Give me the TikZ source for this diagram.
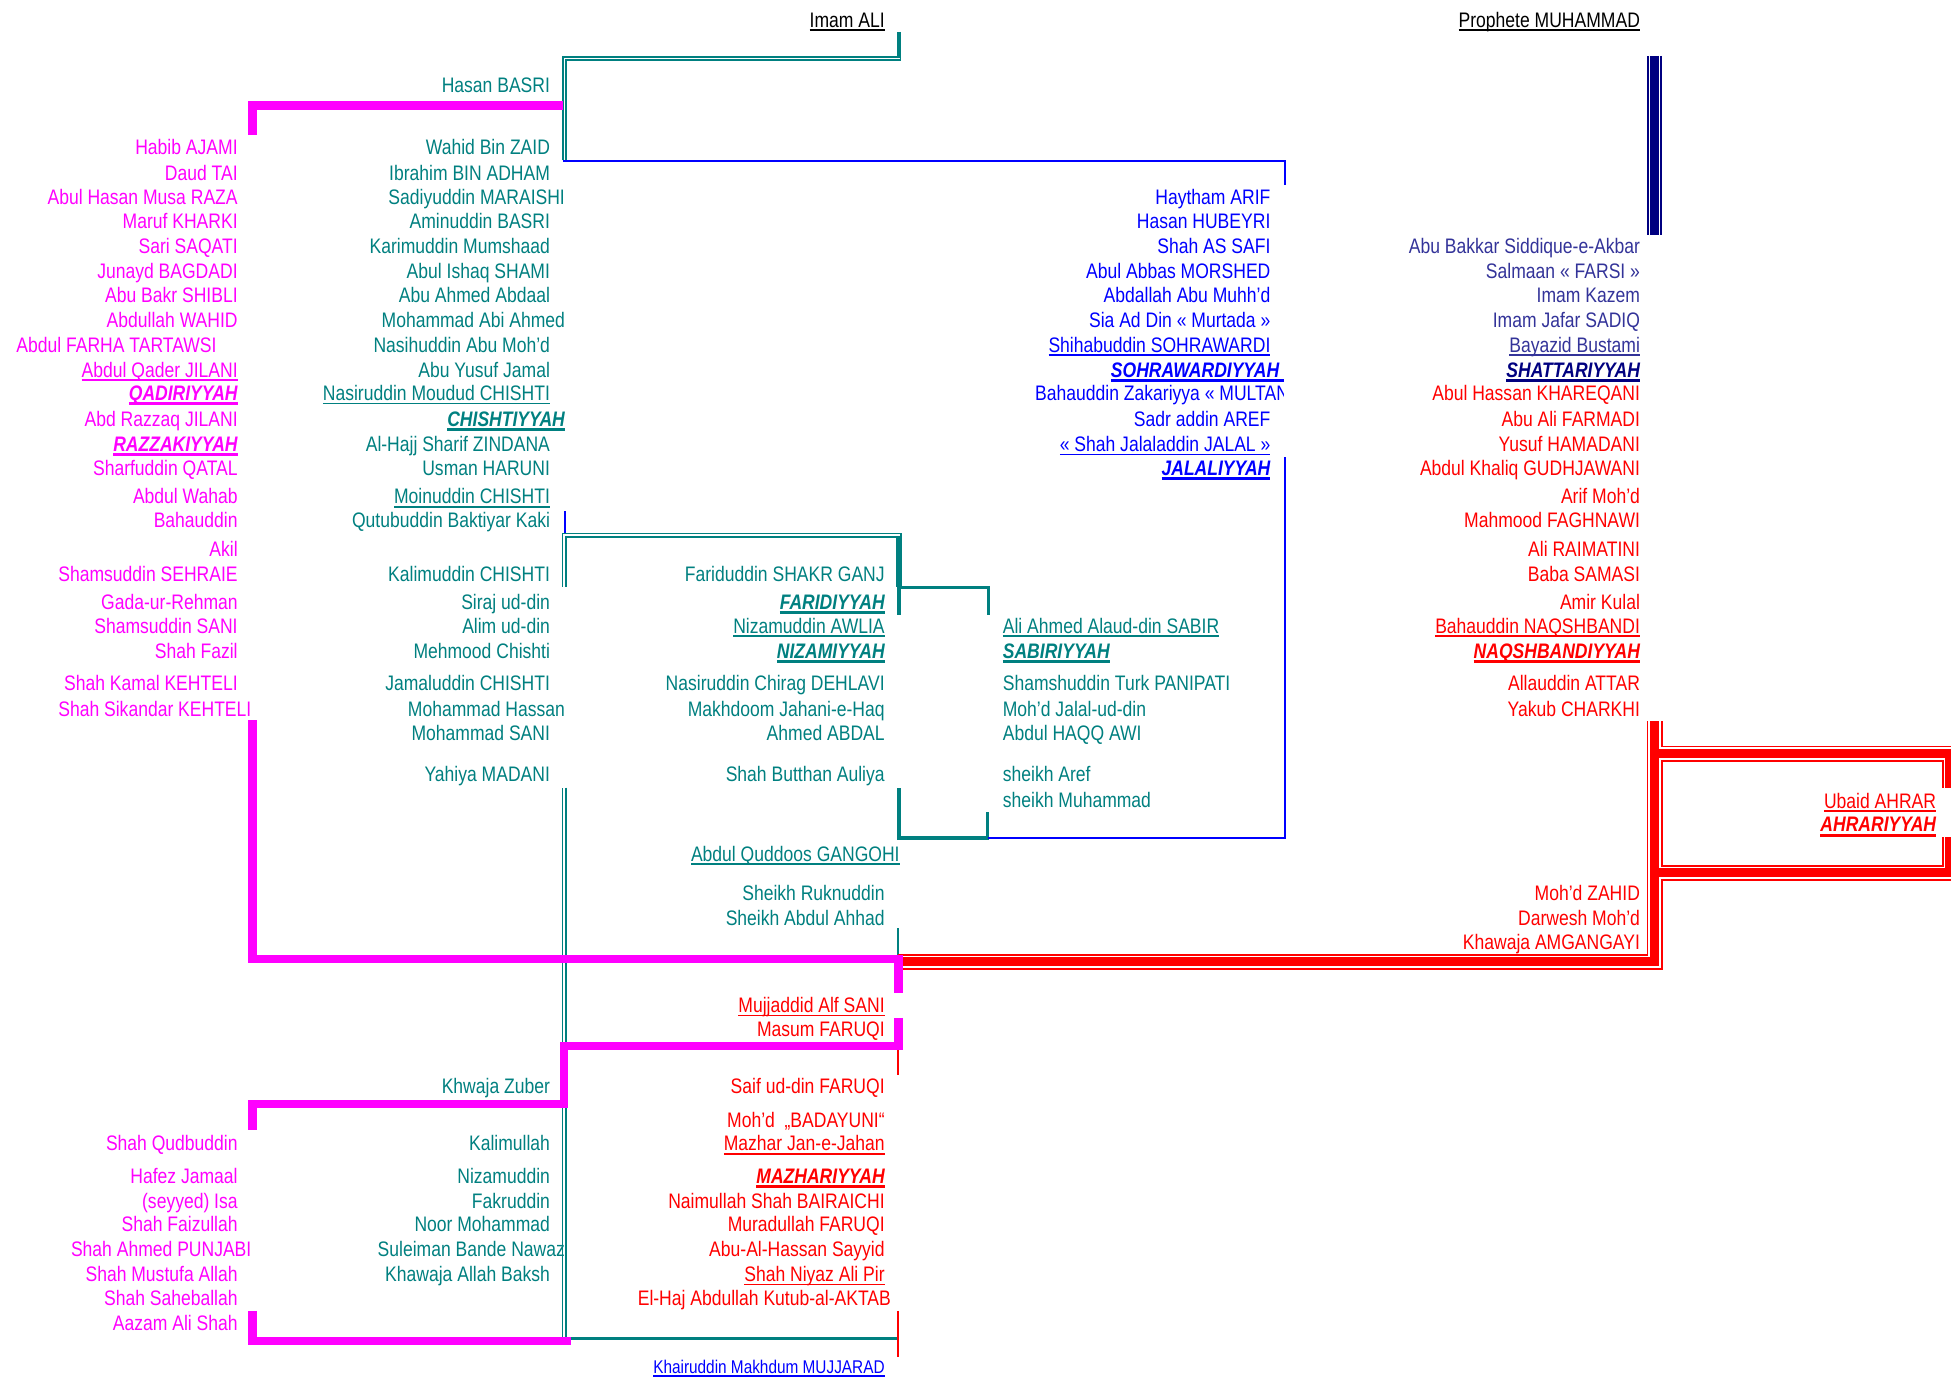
\documentclass[tikz,border=0pt]{standalone}
\usepackage{fontspec}
\setmainfont{Liberation Sans}[FakeStretch=0.835]
\definecolor{mg}{HTML}{FF00FF}
\definecolor{tl}{HTML}{008080}
\definecolor{bu}{HTML}{0000FF}
\definecolor{rd}{HTML}{FF0000}
\definecolor{nv}{HTML}{000080}
\definecolor{sl}{HTML}{333399}
\newcommand\ulx[2][0.8pt]{\setbox0=\hbox{#2}\rlap{\rule[-1.8pt]{\wd0}{#1}}\box0}
\newcommand\bix[1]{\setbox0=\hbox{\bfseries\itshape #1}\rlap{\rule[-2.3pt]{\wd0}{1.5pt}}\box0}
\begin{document}
\begin{tikzpicture}[x=0.6221pt,y=-0.6221pt,
  every node/.style={inner sep=0pt,outer sep=0pt,font=\fontsize{10.5}{12}\selectfont},
  R/.style={anchor=base east}, L/.style={anchor=base west},
  mgline/.style={mg,line width=4.2pt},
  tthick/.style={tl,line width=1.65pt},
  tdouble/.style={tl,double=white,double distance=0.85pt,line width=0.85pt},
  bline/.style={bu,line width=1pt},
  rthin/.style={rd,line width=0.9pt}]
\fill[white] (0,0) rectangle (1568,1107);
\useasboundingbox (0,0) rectangle (1568,1107);

% ---------- named coordinates ----------
\coordinate (aliA) at (722.5,25.7);
\coordinate (aliB) at (722.5,49);
\coordinate (dA) at (723.5,47);
\coordinate (dB) at (453.7,128.6);
\coordinate (bA) at (452.2,129.4);
\coordinate (bB) at (1032.8,148.7);
\coordinate (qk1) at (453.7,411);
\coordinate (qk2) at (453.7,430);
\coordinate (fA) at (453.5,471.5);
\coordinate (fB) at (722.5,472);
\coordinate (fC) at (722.5,494.3);
\coordinate (sA) at (794.3,494.3);
\coordinate (gA) at (722.5,633.5);
\coordinate (gB) at (793.8,652.3);
\coordinate (jA) at (1032.8,367);
\coordinate (lwA) at (453.5,633);
\coordinate (lwB) at (453.5,1077);
\coordinate (ahA) at (722,746);
\coordinate (ahB) at (722,768);
\coordinate (btA) at (454.6,1075.5);
\coordinate (btB) at (722,1075.5);
\coordinate (rtA) at (722,844);
\coordinate (rtB) at (722,864);
\coordinate (rbA) at (722,1053.6);
\coordinate (rbB) at (722,1090.3);

% ---------- teal and blue connectors ----------
\draw[tthick] (aliA) -- (aliB);
\draw[tdouble] (dA) -- (453.7,47) -- (dB);
\draw[bline] (bA) -- (1032.8,129.4) -- (bB);
\draw[bline] (qk1) -- (qk2);
\draw[tdouble] (fA) -- (453.5,430.2) -- (722.5,430.2) -- (fB);
\draw[tthick] (722.5,431) -- (fC);
\draw[tthick] (722.5,472.3) -- (794.3,472.3) -- (sA);
\draw[tthick] (gA) -- (722.5,673.5) -- (793.8,673.5) -- (gB);
\draw[bline] (793.8,673.3) -- (1032.8,673.3) -- (jA);
\draw[tdouble] (lwA) -- (lwB);
\draw[tl,line width=1pt] (ahA) -- (ahB);
\draw[tthick] (btA) -- (btB);
\draw[rthin] (rtA) -- (rtB);
\draw[rthin] (rbA) -- (rbB);

% ---------- navy triple line ----------
\coordinate (nvA) at (1330,45);
\coordinate (nvB) at (1330,188.5);
\draw[nv,line width=7.4pt] (nvA) -- (nvB);
\draw[white,line width=5.6pt] (nvA) -- (nvB);
\draw[nv,line width=4.6pt] (nvA) -- (nvB);

% ---------- red triple lines ----------
\coordinate (rvA) at (1329.8,579.5);
\coordinate (rvB) at (722,773);
\coordinate (rlA) at (1329.8,605.6);
\coordinate (rlB) at (1329.8,701.5);
\draw[rd,line width=8pt] (rvA) -- (1329.8,773) -- (rvB) (rlA) -- (1567,605.6) -- (1567,701.5) -- (rlB);
\draw[white,line width=6.2pt] (rvA) -- (1329.8,773) -- (rvB) (rlA) -- (1567,605.6) -- (1567,701.5) -- (rlB);
\draw[rd,line width=4.4pt] (rvA) -- (1329.8,773) -- (rvB) (rlA) -- (1567,605.6) -- (1567,701.5) -- (rlB);
\fill[white] (1557,633.5) rectangle (1570,672.6);

% ---------- magenta connectors ----------
\coordinate (mA) at (452.5,84.8);
\coordinate (mB) at (203,108.5);
\coordinate (mC) at (203,579);
\coordinate (mD) at (722,798);
\coordinate (mE) at (722,818);
\coordinate (mF) at (203,908);
\coordinate (mG) at (203,1053.6);
\coordinate (mH) at (458.6,1077.6);
\draw[mgline] (mA) -- (203,84.8) -- (mB);
\draw[mgline] (mC) -- (203,770.8) -- (722,770.8) -- (mD);
\draw[mgline] (mE) -- (722,840.7) -- (453.5,840.7) -- (453.5,887.3) -- (203,887.3) -- (mF);
\draw[mgline] (mG) -- (203,1077.6) -- (mH);

% ---------- top ----------
\node[R,black] (ali) at (711,22) {\ulx[1.1pt]{Imam ALI}};
\node[R,black] (pro) at (1318,22) {\ulx[1.1pt]{Prophete MUHAMMAD}};

% ---------- magenta column ----------
\begin{scope}[mg]
\node[R] (m1) at (191,124) {Habib AJAMI};
\node[R] (m2) at (191,145) {Daud TAI};
\node[R] (m3) at (191,164) {Abul Hasan Musa RAZA};
\node[R] (m4) at (191,184) {Maruf KHARKI};
\node[R] (m5) at (191,204) {Sari SAQATI};
\node[R] (m6) at (191,224) {Junayd BAGDADI};
\node[R] (m7) at (191,243) {Abu Bakr SHIBLI};
\node[R] (m8) at (191,263) {Abdullah WAHID};
\node[R] (m9) at (174,283) {Abdul FARHA TARTAWSI};
\node[R] (m10) at (191,303) {\ulx{Abdul Qader JILANI}};
\node[R] (m11) at (191,322) {\bix{QADIRIYYAH}};
\node[R] (m12) at (191,343) {Abd Razzaq JILANI};
\node[R] (m13) at (191,363) {\bix{RAZZAKIYYAH}};
\node[R] (m14) at (191,382) {Sharfuddin QATAL};
\node[R] (m15) at (191,405) {Abdul Wahab};
\node[R] (m16) at (191,424) {Bahauddin};
\node[R] (m17) at (191,447) {Akil};
\node[R] (m18) at (191,467) {Shamsuddin SEHRAIE};
\node[R] (m19) at (191,490) {Gada-ur-Rehman};
\node[R] (m20) at (191,509) {Shamsuddin SANI};
\node[R] (m21) at (191,529) {Shah Fazil};
\node[R] (m22) at (191,555) {Shah Kamal KEHTELI};
\node[R] (m23) at (202,576) {Shah Sikandar KEHTELI};
\node[R] (m24) at (191,925) {Shah Qudbuddin};
\node[R] (m25) at (191,951) {Hafez Jamaal};
\node[R] (m26) at (191,971) {(seyyed) Isa};
\node[R] (m27) at (191,990) {Shah Faizullah};
\node[R] (m28) at (202,1010) {Shah Ahmed PUNJABI};
\node[R] (m29) at (191,1030) {Shah Mustufa Allah};
\node[R] (m30) at (191,1049) {Shah Saheballah};
\node[R] (m31) at (191,1069) {Aazam Ali Shah};
\end{scope}

% ---------- teal column 2 ----------
\begin{scope}[tl]
\node[R] (t1) at (442,74) {Hasan BASRI};
\node[R] (t2) at (442,124) {Wahid Bin ZAID};
\node[R] (t3) at (442,145) {Ibrahim BIN ADHAM};
\node[R] (t4) at (454,164) {Sadiyuddin MARAISHI};
\node[R] (t5) at (442,184) {Aminuddin BASRI};
\node[R] (t6) at (442,204) {Karimuddin Mumshaad};
\node[R] (t7) at (442,224) {Abul Ishaq SHAMI};
\node[R] (t8) at (442,243) {Abu Ahmed Abdaal};
\node[R] (t9) at (454,263) {Mohammad Abi Ahmed};
\node[R] (t10) at (442,283) {Nasihuddin Abu Moh’d};
\node[R] (t11) at (442,303) {Abu Yusuf Jamal};
\node[R] (t12) at (442,322) {\ulx{Nasiruddin Moudud CHISHTI}};
\node[R] (t13) at (454,343) {\bix{CHISHTIYYAH}};
\node[R] (t14) at (442,363) {Al-Hajj Sharif ZINDANA};
\node[R] (t15) at (442,382) {Usman HARUNI};
\node[R] (t16) at (442,405) {\ulx{Moinuddin CHISHTI}};
\node[R] (t17) at (442,424) {Qutubuddin Baktiyar Kaki};
\node[R] (t18) at (442,467) {Kalimuddin CHISHTI};
\node[R] (t19) at (442,490) {Siraj ud-din};
\node[R] (t20) at (442,509) {Alim ud-din};
\node[R] (t21) at (442,529) {Mehmood Chishti};
\node[R] (t22) at (442,555) {Jamaluddin CHISHTI};
\node[R] (t23) at (454,576) {Mohammad Hassan};
\node[R] (t24) at (442,595) {Mohammad SANI};
\node[R] (t25) at (442,628) {Yahiya MADANI};
\node[R] (t26) at (442,879) {Khwaja Zuber};
\node[R] (t27) at (442,925) {Kalimullah};
\node[R] (t28) at (442,951) {Nizamuddin};
\node[R] (t29) at (442,971) {Fakruddin};
\node[R] (t30) at (442,990) {Noor Mohammad};
\node[R] (t31) at (454,1010) {Suleiman Bande Nawaz};
\node[R] (t32) at (442,1030) {Khawaja Allah Baksh};
% column 3 teal
\node[R] (c1) at (711,467) {Fariduddin SHAKR GANJ};
\node[R] (c2) at (711,490) {\bix{FARIDIYYAH}};
\node[R] (c3) at (711,509) {\ulx{Nizamuddin AWLIA}};
\node[R] (c4) at (711,529) {\bix{NIZAMIYYAH}};
\node[R] (c5) at (711,555) {Nasiruddin Chirag DEHLAVI};
\node[R] (c6) at (711,576) {Makhdoom Jahani-e-Haq};
\node[R] (c7) at (711,595) {Ahmed ABDAL};
\node[R] (c8) at (711,628) {Shah Butthan Auliya};
\node[R] (c9) at (723,692) {\ulx{Abdul Quddoos GANGOHI}};
\node[R] (c10) at (711,724) {Sheikh Ruknuddin};
\node[R] (c11) at (711,744) {Sheikh Abdul Ahhad};
% column 4 teal
\node[L] (s1) at (806,509) {\ulx{Ali Ahmed Alaud-din SABIR}};
\node[L] (s2) at (806,529) {\bix{SABIRIYYAH}};
\node[L] (s3) at (806,555) {Shamshuddin Turk PANIPATI};
\node[L] (s4) at (806,576) {Moh’d Jalal-ud-din};
\node[L] (s5) at (806,595) {Abdul HAQQ AWI};
\node[L] (s6) at (806,628) {sheikh Aref};
\node[L] (s7) at (806,649) {sheikh Muhammad};
\end{scope}

% ---------- red column 3 ----------
\begin{scope}[rd]
\node[R] (r1) at (711,814) {\ulx{Mujjaddid Alf SANI}};
\node[R] (r2) at (711,833) {Masum FARUQI};
\node[R] (r3) at (711,879) {Saif ud-din FARUQI};
\node[R] (r4) at (711,906) {Moh’d\ \ „BADAYUNI“};
\node[R] (r5) at (711,925) {\ulx{Mazhar Jan-e-Jahan}};
\node[R] (r6) at (711,951) {\bix{MAZHARIYYAH}};
\node[R] (r7) at (711,971) {Naimullah Shah BAIRAICHI};
\node[R] (r8) at (711,990) {Muradullah FARUQI};
\node[R] (r9) at (711,1010) {Abu-Al-Hassan Sayyid};
\node[R] (r10) at (711,1030) {\ulx{Shah Niyaz Ali Pir}};
\node[R] (r11) at (716,1049) {El-Haj Abdullah Kutub-al-AKTAB};
\end{scope}
\node[R,bu,font=\fontsize{9.2}{11}\selectfont] (kh) at (711,1103.5) {\ulx[0.8pt]{Khairuddin Makhdum MUJJARAD}};

% ---------- blue column 5 ----------
\begin{scope}[bu]
\node[R] (b1) at (1021,164) {Haytham ARIF};
\node[R] (b2) at (1021,184) {Hasan HUBEYRI};
\node[R] (b3) at (1021,204) {Shah AS SAFI};
\node[R] (b4) at (1021,224) {Abul Abbas MORSHED};
\node[R] (b5) at (1021,243) {Abdallah Abu Muhh’d};
\node[R] (b6) at (1021,263) {Sia Ad Din « Murtada »};
\node[R] (b7) at (1021,283) {\ulx{Shihabuddin SOHRAWARDI}};
\node[R] (b8) at (1032,303) {\bix{SOHRAWARDIYYAH\ }};
\begin{scope}
\clip (820,300) rectangle (1031.5,335);
\node[L] (b9) at (832,322) {Bahauddin Zakariyya « MULTANI};
\end{scope}
\node[R] (b10) at (1021,343) {Sadr addin AREF};
\node[R] (b11) at (1021,363) {\ulx{« Shah Jalaladdin JALAL »}};
\node[R] (b12) at (1021,382) {\bix{JALALIYYAH}};
\end{scope}

% ---------- column 6 ----------
\begin{scope}[sl]
\node[R] (p1) at (1318,204) {Abu Bakkar Siddique-e-Akbar};
\node[R] (p2) at (1318,224) {Salmaan « FARSI »};
\node[R] (p3) at (1318,243) {Imam Kazem};
\node[R] (p4) at (1318,263) {Imam Jafar SADIQ};
\node[R] (p5) at (1318,283) {\ulx{Bayazid Bustami}};
\end{scope}
\node[R,nv] (p6) at (1318,303) {\bix{SHATTARIYYAH}};
\begin{scope}[rd]
\node[R] (q1) at (1318,322) {Abul Hassan KHAREQANI};
\node[R] (q2) at (1318,343) {Abu Ali FARMADI};
\node[R] (q3) at (1318,363) {Yusuf HAMADANI};
\node[R] (q4) at (1318,382) {Abdul Khaliq GUDHJAWANI};
\node[R] (q5) at (1318,405) {Arif Moh’d};
\node[R] (q6) at (1318,424) {Mahmood FAGHNAWI};
\node[R] (q7) at (1318,447) {Ali RAIMATINI};
\node[R] (q8) at (1318,467) {Baba SAMASI};
\node[R] (q9) at (1318,490) {Amir Kulal};
\node[R] (q10) at (1318,509) {\ulx{Bahauddin NAQSHBANDI}};
\node[R] (q11) at (1318,529) {\bix{NAQSHBANDIYYAH}};
\node[R] (q12) at (1318,555) {Allauddin ATTAR};
\node[R] (q13) at (1318,576) {Yakub CHARKHI};
\node[R] (q14) at (1318,724) {Moh’d ZAHID};
\node[R] (q15) at (1318,744) {Darwesh Moh’d};
\node[R] (q16) at (1318,763) {Khawaja AMGANGAYI};
\node[R] (u1) at (1556,649.5) {\ulx{Ubaid AHRAR}};
\node[R] (u2) at (1556,668.6) {\bix{AHRARIYYAH}};
\end{scope}
\end{tikzpicture}
\end{document}
